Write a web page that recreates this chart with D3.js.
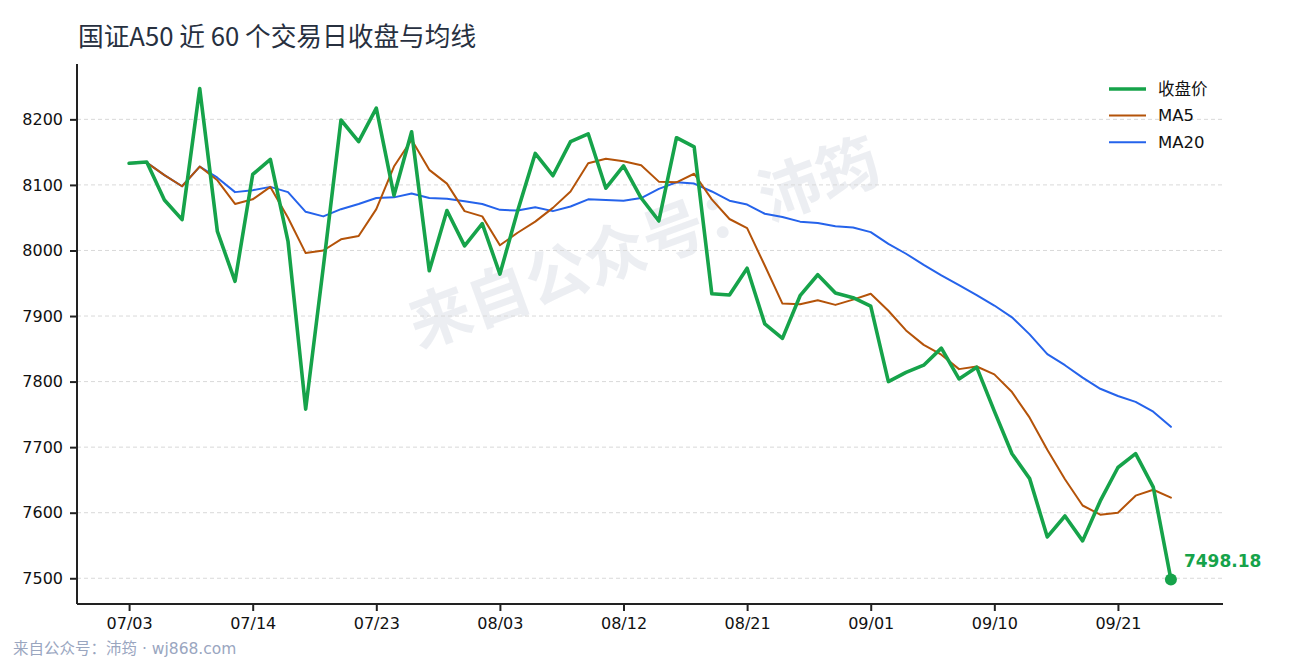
<!DOCTYPE html>
<html>
<head>
<meta charset="utf-8">
<script src="https://cdn.jsdelivr.net/npm/d3@7"></script>
<style>
  html, body { margin: 0; padding: 0; background: #ffffff; }
  svg { display: block; font-family: "DejaVu Sans", "Noto Sans CJK SC", sans-serif; }
</style>
</head>
<body>
<svg id="chart" width="1290" height="660"></svg>
<script>
// ---- data ----
const tickIndex = [0, 7, 14, 21, 28, 35, 42, 49, 56];
const tickLabels = ["07/03", "07/14", "07/23", "08/03", "08/12", "08/21", "09/01", "09/10", "09/21"];

const close = [
  8133, 8135, 8077, 8047, 8247, 8029, 7953, 8116, 8139, 8014,
  7758, 7975, 8199, 8166, 8217, 8084, 8181, 7969, 8061, 8007,
  8041, 7964, 8060, 8148, 8114, 8166, 8178, 8095, 8129, 8080,
  8045, 8172, 8158, 7934, 7932, 7973, 7888, 7866, 7931, 7963,
  7935, 7928, 7915, 7800, 7814, 7825, 7851, 7804, 7822, 7755,
  7690, 7652, 7563, 7595, 7557, 7618, 7669, 7690, 7639, 7498.18
];
const ma5 = [
  8133, 8134, 8115, 8098, 8128, 8107, 8071, 8078, 8097, 8050,
  7996, 8000, 8017, 8022, 8063, 8128, 8169, 8123, 8102, 8060,
  8052, 8008, 8027, 8044, 8065, 8090, 8133, 8140, 8136, 8130,
  8105, 8104, 8117, 8078, 8048, 8034, 7977, 7919, 7918, 7924,
  7917, 7925, 7934, 7908, 7878, 7856, 7841, 7819, 7823, 7811,
  7784, 7745, 7696, 7651, 7611, 7597, 7600, 7626, 7635, 7623
];
const ma20 = [
  8133, 8134, 8115, 8098, 8128, 8111, 8089, 8092, 8097, 8089,
  8059, 8052, 8063, 8071, 8080, 8081, 8087, 8080, 8079, 8075,
  8071, 8062, 8061, 8066, 8060, 8067, 8078, 8077, 8076, 8080,
  8094, 8104, 8102, 8090, 8076, 8070, 8056, 8051, 8044, 8042,
  8037, 8035, 8028, 8010, 7995, 7978, 7962, 7947, 7932, 7916,
  7898, 7872, 7842, 7825, 7806, 7789, 7778, 7769, 7754, 7731
];
const yTicks = [7500, 7600, 7700, 7800, 7900, 8000, 8100, 8200];
const seriesNames = ["收盘价", "MA5", "MA20"];
const seriesColors = ["#16a34a", "#b45309", "#2563eb"];
const seriesWidths = [3.6, 2, 2];
const titleText = "国证A50 近 60 个交易日收盘与均线";
const footerText = "来自公众号：沛筠 · wj868.com";
const watermarkText = "来自公众号：沛筠";

// ---- layout ----
const FONT = '"DejaVu Sans", "Noto Sans CJK SC", sans-serif';
const CJK = '"Noto Sans CJK SC", sans-serif';
const svg = d3.select("#chart");
const L = 77, R = 1223, T = 64, B = 604;

const n = close.length;
const padX = (n - 1) * 0.05;
const x = d3.scaleLinear().domain([-padX, n - 1 + padX]).range([L, R]);
const ext = d3.extent(close);
const padY = (ext[1] - ext[0]) * 0.05;
const y = d3.scaleLinear().domain([ext[0] - padY, ext[1] + padY]).range([B, T]);

// watermark
svg.append("text")
  .attr("transform", "translate(646,248) rotate(-20)")
  .attr("text-anchor", "middle")
  .attr("dominant-baseline", "middle")
  .attr("font-size", 62)
  .attr("font-weight", 700)
  .attr("font-family", CJK)
  .attr("fill", "#e6e8ee")
  .attr("fill-opacity", 0.75)
  .text(watermarkText);

// grid
svg.append("g")
  .selectAll("line")
  .data(yTicks)
  .join("line")
  .attr("x1", L).attr("x2", R)
  .attr("y1", d => y(d)).attr("y2", d => y(d))
  .attr("stroke", "#d9d9d9")
  .attr("stroke-width", 1)
  .attr("stroke-dasharray", "4,3");

// lines
const lineGen = d3.line().x((d, i) => x(i)).y(d => y(d));
const seriesData = [close, ma5, ma20];
[2, 1, 0].forEach(k => {
  svg.append("path")
    .datum(seriesData[k])
    .attr("fill", "none")
    .attr("stroke", seriesColors[k])
    .attr("stroke-width", seriesWidths[k])
    .attr("stroke-linejoin", "round")
    .attr("stroke-linecap", "round")
    .attr("d", lineGen);
});

// last point marker
const last = n - 1;
svg.append("circle")
  .attr("cx", x(last)).attr("cy", y(close[last]))
  .attr("r", 6)
  .attr("fill", seriesColors[0]);
svg.append("text")
  .attr("x", x(last) + 13)
  .attr("y", y(close[last]) - 12)
  .attr("font-size", 17)
  .attr("font-weight", 700)
  .attr("font-family", FONT)
  .attr("fill", seriesColors[0])
  .text(close[last].toFixed(2));

// axes
const yAxis = svg.append("g")
  .attr("transform", `translate(${L},0)`)
  .call(d3.axisLeft(y).tickValues(yTicks).tickSize(7).tickPadding(7).tickFormat(d3.format("d")));
const xAxis = svg.append("g")
  .attr("transform", `translate(0,${B})`)
  .call(d3.axisBottom(x).tickValues(tickIndex).tickSize(7).tickPadding(7)
    .tickFormat((d, i) => tickLabels[i]));
[yAxis, xAxis].forEach(g => {
  g.select(".domain").attr("stroke", "#222").attr("stroke-width", 2);
  g.selectAll(".tick line").attr("stroke", "#222").attr("stroke-width", 2);
  g.selectAll(".tick text")
    .attr("fill", "#111")
    .attr("font-size", 16)
    .attr("font-family", FONT);
});
yAxis.select(".domain").attr("d", `M0,${B}V${T}`);
xAxis.select(".domain").attr("d", `M${L},0H${R}`);

// title
svg.append("text")
  .attr("x", 78).attr("y", 46)
  .attr("font-size", 25.7)
  .attr("font-family", CJK)
  .attr("fill", "#27303f")
  .text(titleText);

// legend
const lg = svg.append("g").attr("transform", "translate(1109,89)");
seriesNames.forEach((name, k) => {
  const row = lg.append("g").attr("transform", `translate(0,${k * 26.6})`);
  row.append("line")
    .attr("x1", 0).attr("x2", 37).attr("y1", 0).attr("y2", 0)
    .attr("stroke", seriesColors[k])
    .attr("stroke-width", seriesWidths[k]);
  row.append("text")
    .attr("x", 49).attr("y", 0)
    .attr("dominant-baseline", "central")
    .attr("font-size", 16.5)
    .attr("font-family", FONT)
    .attr("fill", "#111")
    .text(name);
});

// footer
svg.append("text")
  .attr("x", 13).attr("y", 654)
  .attr("font-size", 15.5)
  .attr("font-family", FONT)
  .attr("fill", "#9aa6bf")
  .text(footerText);
</script>
</body>
</html>
